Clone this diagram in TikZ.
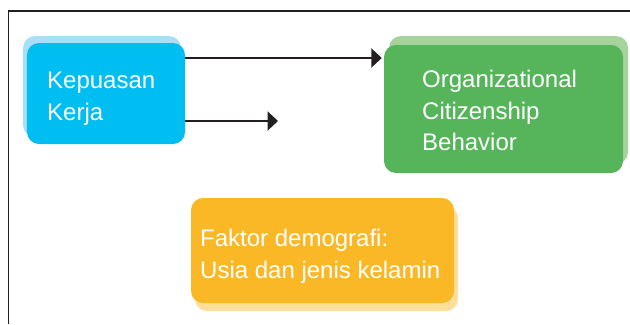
\documentclass[tikz,border=0pt]{standalone}
\usepackage{fontspec}
\setmainfont{Liberation Sans}
\usetikzlibrary{arrows.meta}
\definecolor{cblue}{HTML}{00BDF2}
\definecolor{cblueS}{HTML}{A8E0F8}
\definecolor{cgreen}{HTML}{56B45A}
\definecolor{cgreenS}{HTML}{A6D29B}
\definecolor{corange}{HTML}{FBB826}
\definecolor{corangeS}{HTML}{FDDF9B}
\definecolor{cline}{HTML}{231F20}
\begin{document}
\begin{tikzpicture}[x=1bp,y=-1bp,
  box/.style={rectangle, rounded corners=12bp, inner sep=0pt, draw=none},
  lbl/.style={text=white, font=\fontsize{24bp}{31.5bp}\selectfont, align=left, inner sep=0pt, anchor=base west},
  arr/.style={draw=cline, line width=2.2bp, -{Triangle[length=10.5bp,width=19bp]}},
  frame/.style={draw=cline, line width=1.5bp}]
\useasboundingbox (0,0) rectangle (630,324);
% frame
\draw[frame] (8.5,324) -- (8.5,11) -- (630,11);
% shadows
\node[box, fill=cblueS, minimum width=158bp, minimum height=101bp] (blueS) at (102,86.5) {};
\node[box, fill=cgreenS, minimum width=239bp, minimum height=128bp] (greenS) at (508.5,100) {};
\node[box, fill=corangeS, minimum width=263bp, minimum height=105bp] (orangeS) at (326.5,258.5) {};
% main boxes
\node[box, fill=cblue, minimum width=158bp, minimum height=101bp] (blue) at (106,93.5) {};
\node[box, fill=cgreen, minimum width=239bp, minimum height=128bp] (green) at (503.5,109) {};
\node[box, fill=corange, minimum width=263bp, minimum height=105bp] (orange) at (322.5,250.5) {};
% labels (base anchor = baseline of last line)
\node[lbl] (tblue) at (47,120) {Kepuasan\\Kerja};
\node[lbl] (tgreen) at (422,150.5) {Organizational\\Citizenship\\Behavior};
\node[lbl] (torange) at (200,278) {Faktor demografi:\\Usia dan jenis kelamin};
% arrows
\coordinate (r1) at (0,58);
\coordinate (r2) at (0,121);
\coordinate (e2) at (278,121);
\draw[arr, shorten >=2bp] (blue.east |- r1) -- (green.west |- r1);
\draw[arr] (blue.east |- r2) -- (e2);
\end{tikzpicture}
\end{document}
